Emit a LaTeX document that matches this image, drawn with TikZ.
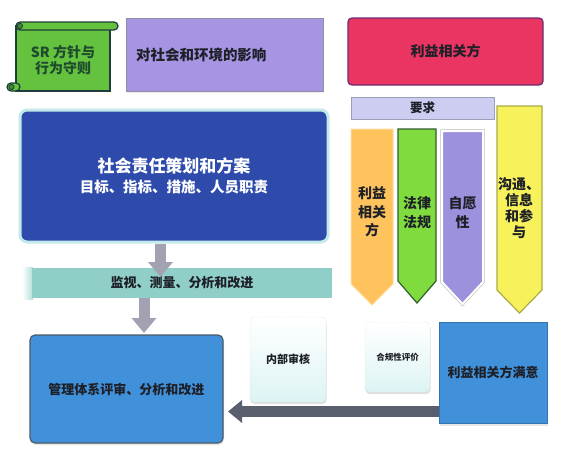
\documentclass[tikz,border=0pt]{standalone}
\usepackage{fontspec}
\setmainfont{Noto Sans CJK SC}
\usetikzlibrary{arrows.meta,shadows}
\definecolor{scrollgreen}{HTML}{64C23E}
\definecolor{scrollborder}{HTML}{1E3D3B}
\definecolor{sctext}{HTML}{1E4A2E}
\definecolor{impactpurple}{HTML}{A794E2}
\definecolor{impactborder}{HTML}{8E8EA6}
\definecolor{planblue}{HTML}{2E4BAB}
\definecolor{planhalo}{HTML}{C3E9EA}
\definecolor{stakered}{HTML}{EA3563}
\definecolor{stakeborder}{HTML}{6C2C6E}
\definecolor{reqfill}{HTML}{CDCDF1}
\definecolor{reqborder}{HTML}{9D9DB6}
\definecolor{orangef}{HTML}{FFC35E}
\definecolor{greenf}{HTML}{80DC3E}
\definecolor{greenborder}{HTML}{2F5E2E}
\definecolor{purplef}{HTML}{9C91DC}
\definecolor{yellowf}{HTML}{F7F25C}
\definecolor{yellowborder}{HTML}{ABAB45}
\definecolor{tealf}{HTML}{8FCFC7}
\definecolor{grayarr}{HTML}{A2A2B2}
\definecolor{mgmtblue}{HTML}{4191DA}
\definecolor{mgmtborder}{HTML}{4B5B6B}
\definecolor{darkarr}{HTML}{5A5F6E}
\definecolor{txtdark}{HTML}{1E2028}
\definecolor{paleb}{HTML}{DDF4F4}
\newcommand\myfs[2]{\fontsize{#1}{#2}\selectfont}
\begin{document}
\begin{tikzpicture}[x=1pt,y=-1pt,
  basebox/.style={rectangle, inner sep=0pt, align=center, text=txtdark, font=\bfseries\myfs{13}{16}},
  label/.style={inner sep=0pt, align=center, text=txtdark, font=\bfseries\myfs{14}{18.5}},
  whitebox/.style={basebox, rounded corners=4pt, draw=gray!45, densely dotted, top color=white, bottom color=paleb,
    drop shadow={opacity=0.25, shadow xshift=0.5pt, shadow yshift=-2pt}},
  grayarrow/.style={draw=grayarr, line width=11pt, -{Triangle[length=15pt,width=24pt]}},
  darkarrow/.style={draw=darkarr, line width=11pt, -{Triangle[length=14pt,width=22pt]}}
]
\useasboundingbox (0,0) rectangle (566,461);

% scroll
\filldraw[fill=scrollgreen, draw=scrollborder, line width=1.2pt] (16,26) rectangle (110,91);
\filldraw[fill=scrollgreen, draw=scrollborder, line width=1.2pt, rounded corners=4pt] (16,22) rectangle (118,30);
\filldraw[fill=scrollgreen!70!black, draw=scrollborder, line width=0.8pt] (20,26) circle (2.6);
\filldraw[fill=scrollgreen, draw=scrollborder, line width=1.2pt, rounded corners=4pt] (7,83) rectangle (20,91);
\filldraw[fill=scrollgreen!70!black, draw=scrollborder, line width=0.8pt] (11.5,87) circle (2.6);
\node[label, text=sctext, font=\bfseries\myfs{14}{16}] (policy) at (63,60) {SR 方针与\\行为守则};

% impact
\node[basebox, fill=impactpurple, draw=impactborder, line width=1pt, minimum width=197pt, minimum height=73pt,
  text width=177pt, align=left, font=\bfseries\myfs{14.5}{17},
  drop shadow={opacity=0.15, shadow xshift=1pt, shadow yshift=-1.5pt}] (impact) at (224.5,54.5) {对社会和环境的影响};

% plan
\node[basebox, fill=planblue, draw=planhalo, line width=3pt, rounded corners=7pt, minimum width=308pt, minimum height=132pt,
  text=white, font=\bfseries] (plan) at (174,176)
  {{\myfs{17}{20}社会责任策划和方案}\\[5pt]{\myfs{14.5}{17}目标、指标、措施、人员职责}};

% stakeholders
\node[basebox, fill=stakered, draw=stakeborder, line width=1.3pt, rounded corners=4pt, minimum width=195pt, minimum height=67pt,
  font=\bfseries\myfs{14}{17}] (stake) at (445.5,51.5) {利益相关方};
\node[basebox, fill=reqfill, draw=reqborder, line width=1pt, minimum width=143pt, minimum height=22pt,
  font=\bfseries\myfs{12.5}{15}] (req) at (422.5,108) {要求};

% pentagon arrows
\filldraw[fill=orangef, draw=orangef!60!white, line width=1pt] (351,129) -- (393,129) -- (393,284) -- (372,305) -- (351,284) -- cycle;
\filldraw[fill=greenf, draw=greenborder, line width=1.2pt] (398,129) -- (436,129) -- (436,281) -- (417,303) -- (398,281) -- cycle;
\filldraw[fill=purplef, draw=white, line width=2pt] (442,131) -- (483,131) -- (483,282) -- (462.5,304) -- (442,282) -- cycle;
\draw[gray!50, line width=0.5pt] (440.5,129.5) -- (484.5,129.5) -- (484.5,282.5) -- (462.5,306) -- (440.5,282.5) -- cycle;
\filldraw[fill=yellowf, draw=yellowborder, line width=1.2pt] (497,106) -- (542,106) -- (542,290) -- (519.5,313) -- (497,290) -- cycle;
\node[label] (ta) at (372,212) {利益\\相关\\方};
\node[label] (tb) at (417,212.5) {法律\\法规};
\node[label] (tc) at (462.5,212.5) {自愿\\性};
\node[label, font=\bfseries\myfs{14}{16.2}] (td) at (519,208) {沟通、\\信息\\和参\\与};

% monitoring bar
\shade[left color=white, right color=tealf!70!white] (22,267) rectangle (33,299);
\node[basebox, fill=tealf, minimum width=300pt, minimum height=30pt] (mon) at (182,283) {监视、测量、分析和改进};

% management review
\node[basebox, fill=mgmtblue, draw=mgmtborder, line width=1.2pt, rounded corners=5pt, minimum width=193pt, minimum height=108pt,
  drop shadow={opacity=0.2, shadow xshift=1pt, shadow yshift=-2pt}] (mgmt) at (126.5,389) {管理体系评审、分析和改进};

% internal audit, compliance, satisfaction
\node[whitebox, minimum width=76pt, minimum height=85pt, font=\bfseries\myfs{11}{13}] (audit) at (288,359.5) {内部审核};
\node[whitebox, minimum width=65pt, minimum height=70pt, font=\bfseries\myfs{8.5}{10}] (comp) at (397.5,357) {合规性评价};
\node[basebox, fill=mgmtblue, draw=mgmtblue!80!black, line width=0.6pt, minimum width=108pt, minimum height=101pt,
  drop shadow={opacity=0.2, shadow xshift=0.5pt, shadow yshift=-2.5pt}] (sat) at (493,372.5) {利益相关方满意};

% connectors
\coordinate (a1end) at (160.5,277);
\draw[grayarrow] (plan.south -| a1end) -- (a1end);
\coordinate (a2end) at (144,333);
\draw[grayarrow] (mon.south -| a2end) -- (a2end);
\coordinate (a3end) at (228,411.5);
\draw[darkarrow] (sat.west |- a3end) -- (a3end);
\end{tikzpicture}
\end{document}
